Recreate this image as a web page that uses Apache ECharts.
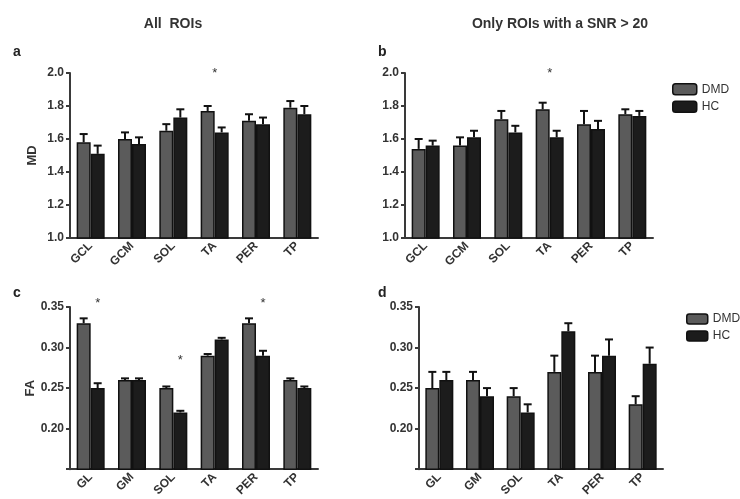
<!DOCTYPE html>
<html>
<head>
<meta charset="utf-8">
<script src="https://cdn.jsdelivr.net/npm/echarts@6/dist/echarts.min.js"></script>
<style>
  body { margin: 0; background: #fff; }
  #chart { width: 740px; height: 499px; }
</style>
</head>
<body>
<div id="chart"></div>
<script>
// categories
const catsMD = ['GCL', 'GCM', 'SOL', 'TA', 'PER', 'TP'];
const catsFA = ['GL', 'GM', 'SOL', 'TA', 'PER', 'TP'];

// a: MD, all ROIs
const mdAllDMD = [1.58, 1.60, 1.65, 1.77, 1.71, 1.79];
const mdAllDMDSem = [0.05, 0.04, 0.04, 0.03, 0.04, 0.04];
const mdAllHC = [1.51, 1.57, 1.73, 1.64, 1.69, 1.75];
const mdAllHCSem = [0.05, 0.04, 0.05, 0.03, 0.04, 0.05];

// b: MD, ROIs with SNR > 20
const mdSnrDMD = [1.54, 1.56, 1.72, 1.78, 1.69, 1.75];
const mdSnrDMDSem = [0.06, 0.05, 0.05, 0.04, 0.08, 0.03];
const mdSnrHC = [1.56, 1.61, 1.64, 1.61, 1.66, 1.74];
const mdSnrHCSem = [0.03, 0.04, 0.04, 0.04, 0.05, 0.03];

// c: FA, all ROIs
const faAllDMD = [0.33, 0.26, 0.25, 0.29, 0.33, 0.26];
const faAllDMDSem = [0.006, 0.002, 0.002, 0.002, 0.006, 0.002];
const faAllHC = [0.25, 0.26, 0.22, 0.31, 0.29, 0.25];
const faAllHCSem = [0.006, 0.002, 0.002, 0.002, 0.006, 0.002];

// d: FA, ROIs with SNR > 20
const faSnrDMD = [0.25, 0.26, 0.24, 0.27, 0.27, 0.23];
const faSnrDMDSem = [0.02, 0.01, 0.01, 0.02, 0.02, 0.01];
const faSnrHC = [0.26, 0.24, 0.22, 0.32, 0.29, 0.28];
const faSnrHCSem = [0.01, 0.01, 0.01, 0.01, 0.02, 0.02];

// significance stars: [category, y value, over which bar]
const starsA = [['TA', 2.0, 'both']];
const starsB = [['TA', 2.0, 'both']];
const starsC = [['GL', 0.355, 'HC'], ['SOL', 0.284, 'HC'], ['PER', 0.355, 'HC']];
const starsD = [];

const FONT = 'Liberation Sans';
const BAR_W = 14;
const dmdColor = '#5b5b5b';
const hcColor = '#1c1c1c';

function errSeries(idx, vals, sems, side) {
  return {
    type: 'custom',
    xAxisIndex: idx, yAxisIndex: idx,
    z: 5,
    silent: true,
    data: vals.map((v, i) => [i, v, v + sems[i]]),
    renderItem: function (params, api) {
      const base = api.coord([api.value(0), api.value(1)]);
      const top = api.coord([api.value(0), api.value(2)]);
      const x = base[0] + side * BAR_W / 2;
      const st = { stroke: '#111', lineWidth: 2 };
      return {
        type: 'group',
        children: [
          { type: 'line', shape: { x1: x, y1: base[1], x2: x, y2: top[1] }, style: st },
          { type: 'line', shape: { x1: x - 4, y1: top[1], x2: x + 4, y2: top[1] }, style: st }
        ]
      };
    }
  };
}

function starSeries(idx, cats, stars) {
  return {
    type: 'custom',
    xAxisIndex: idx, yAxisIndex: idx,
    z: 6,
    silent: true,
    data: stars.map(s => [cats.indexOf(s[0]), s[1], s[2] === 'HC' ? 1 : 0]),
    renderItem: function (params, api) {
      const p = api.coord([api.value(0), api.value(1)]);
      return {
        type: 'text',
        x: p[0] + api.value(2) * BAR_W / 2,
        y: p[1],
        style: { text: '*', fontSize: 13, fontFamily: FONT, fill: '#333', align: 'center', verticalAlign: 'middle' }
      };
    }
  };
}

function barSeries(idx, name, vals, color) {
  return {
    type: 'bar', name: name,
    xAxisIndex: idx, yAxisIndex: idx,
    barWidth: BAR_W, barGap: '0%',
    itemStyle: { color: color, borderColor: '#111', borderWidth: 1.5 },
    data: vals
  };
}

const grids = [
  { left: 70, top: 73, width: 248, height: 165 },
  { left: 405, top: 73, width: 248, height: 165 },
  { left: 70, top: 307, width: 248, height: 163 },
  { left: 419, top: 307, width: 244, height: 163 }
];

const axisLineStyle = { color: '#3a3a3a', width: 2 };
const labelStyle = { fontFamily: FONT, fontWeight: 'bold', fontSize: 12, color: '#333' };

function xAxis(idx, cats) {
  return {
    type: 'category', gridIndex: idx, data: cats,
    axisLine: { lineStyle: axisLineStyle },
    axisTick: { show: false },
    axisLabel: Object.assign({ rotate: 45, margin: 6, interval: 0 }, labelStyle)
  };
}

function yAxis(idx, min, max, interval, digits, name) {
  return {
    type: 'value', gridIndex: idx, min: min, max: max, interval: interval,
    name: name, nameLocation: 'middle', nameGap: 31, nameRotate: 90,
    nameTextStyle: { fontFamily: FONT, fontWeight: 'bold', fontSize: 13, color: '#333' },
    splitLine: { show: false },
    axisLine: { show: true, lineStyle: axisLineStyle },
    axisTick: { show: true, length: 4, lineStyle: axisLineStyle },
    axisLabel: Object.assign({
      margin: 6,
      formatter: v => (v < min + interval / 2 && digits === 2) ? '' : v.toFixed(digits)
    }, labelStyle)
  };
}

const titleStyle = { fontFamily: FONT, fontWeight: 'bold', fontSize: 14, color: '#333' };
const letterStyle = { fontFamily: FONT, fontWeight: 'bold', fontSize: 14, color: '#222' };

const option = {
  backgroundColor: '#fff',
  animation: false,
  title: [
    { text: 'All  ROIs', left: 168, top: 12, textAlign: 'center', textStyle: titleStyle },
    { text: 'Only ROIs with a SNR > 20', left: 555, top: 12, textAlign: 'center', textStyle: titleStyle },
    { text: 'a', left: 8, top: 40, textStyle: letterStyle },
    { text: 'b', left: 373, top: 40, textStyle: letterStyle },
    { text: 'c', left: 8, top: 281, textStyle: letterStyle },
    { text: 'd', left: 373, top: 281, textStyle: letterStyle }
  ],
  legend: [
    {
      orient: 'vertical', left: 667, top: 78, itemWidth: 24, itemHeight: 11, itemGap: 5,
      textStyle: { fontFamily: FONT, fontSize: 12, color: '#333' },
      data: [
        { name: 'DMD', itemStyle: { color: dmdColor, borderColor: '#111', borderWidth: 1.5 } },
        { name: 'HC', itemStyle: { color: hcColor, borderColor: '#111', borderWidth: 1.5 } }
      ]
    },
    {
      orient: 'vertical', left: 681, top: 308, itemWidth: 21, itemHeight: 10, itemGap: 5,
      textStyle: { fontFamily: FONT, fontSize: 12, color: '#333' },
      data: [
        { name: 'DMD', itemStyle: { color: dmdColor, borderColor: '#111', borderWidth: 1.5 } },
        { name: 'HC', itemStyle: { color: hcColor, borderColor: '#111', borderWidth: 1.5 } }
      ]
    }
  ],
  grid: grids,
  xAxis: [xAxis(0, catsMD), xAxis(1, catsMD), xAxis(2, catsFA), xAxis(3, catsFA)],
  yAxis: [
    yAxis(0, 1.0, 2.0, 0.2, 1, 'MD'),
    yAxis(1, 1.0, 2.0, 0.2, 1, ''),
    yAxis(2, 0.15, 0.35, 0.05, 2, 'FA'),
    yAxis(3, 0.15, 0.35, 0.05, 2, '')
  ],
  series: [
    barSeries(0, 'DMD', mdAllDMD, dmdColor), barSeries(0, 'HC', mdAllHC, hcColor),
    errSeries(0, mdAllDMD, mdAllDMDSem, -1), errSeries(0, mdAllHC, mdAllHCSem, 1),
    starSeries(0, catsMD, starsA),

    barSeries(1, 'DMD', mdSnrDMD, dmdColor), barSeries(1, 'HC', mdSnrHC, hcColor),
    errSeries(1, mdSnrDMD, mdSnrDMDSem, -1), errSeries(1, mdSnrHC, mdSnrHCSem, 1),
    starSeries(1, catsMD, starsB),

    barSeries(2, 'DMD', faAllDMD, dmdColor), barSeries(2, 'HC', faAllHC, hcColor),
    errSeries(2, faAllDMD, faAllDMDSem, -1), errSeries(2, faAllHC, faAllHCSem, 1),
    starSeries(2, catsFA, starsC),

    barSeries(3, 'DMD', faSnrDMD, dmdColor), barSeries(3, 'HC', faSnrHC, hcColor),
    errSeries(3, faSnrDMD, faSnrDMDSem, -1), errSeries(3, faSnrHC, faSnrHCSem, 1),
    starSeries(3, catsFA, starsD)
  ]
};

const chart = echarts.init(document.getElementById('chart'));
chart.setOption(option);
</script>
</body>
</html>
